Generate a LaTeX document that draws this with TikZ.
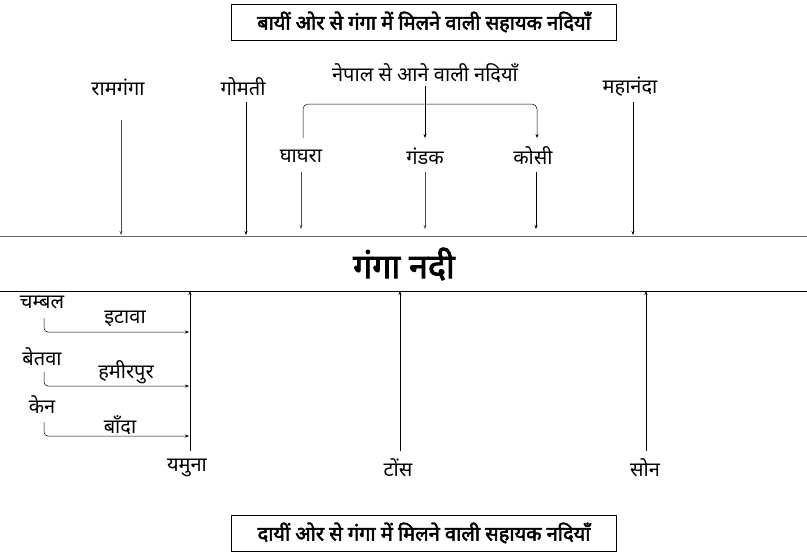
\documentclass[tikz,border=0pt]{standalone}
\usepackage{fontspec}
\setmainfont[Script=Devanagari,AutoFakeBold=2.5]{Noto Sans}
\usetikzlibrary{arrows.meta}
\begin{document}
\begin{tikzpicture}[x=1pt,y=-1pt,
  lbl/.style={inner sep=1pt,font=\fontsize{20}{22}\selectfont},
  ttl/.style={draw,inner sep=0pt,minimum width=385pt,minimum height=36pt,font=\bfseries\fontsize{20}{22}\selectfont},
  arr/.style={-{Stealth[length=4pt,width=3pt]},line width=0.5pt},
  sep/.style={draw=black!60,line width=0.8pt}]
\useasboundingbox (0,0) rectangle (807,560);
\node[ttl] (tt) at (424,22) {बायीं ओर से गंगा में मिलने वाली सहायक नदियाँ};
\node[ttl] (tb) at (424,533) {दायीं ओर से गंगा में मिलने वाली सहायक नदियाँ};
\coordinate (l1a) at (0,236); \coordinate (l1b) at (807,236);
\coordinate (l2a) at (0,291); \coordinate (l2b) at (807,291);
\draw[sep] (l1a) -- (l1b);
\draw[line width=0.8pt] (l2a) -- (l2b);
\node[font=\bfseries\fontsize{34}{38}\selectfont] (ganga) at (404,264) {गंगा नदी};
% top
\node[lbl] (ram) at (118,87) {रामगंगा};
\node[lbl] (gom) at (243,87) {गोमती};
\node[lbl] (nep) at (425,73) {नेपाल से आने वाली नदियाँ};
\node[lbl] (mah) at (630,87) {महानंदा};
\node[lbl] (ghag) at (301,156) {घाघरा};
\node[lbl] (gand) at (425,156) {गंडक};
\node[lbl] (kosi) at (533,156) {कोसी};
\coordinate (ramE) at (121,235); \coordinate (gomE) at (246,235);
\coordinate (ghE) at (301,229); \coordinate (gaE) at (425,229);
\coordinate (koE) at (536,229); \coordinate (maE) at (633,235);
\draw[arr,black!70] (121,120) -- (ramE);
\draw[arr] (246,102) -- (gomE);
\draw[arr,black!70] (301,172) -- (ghE);
\draw[arr,black!70] (425,172) -- (gaE);
\draw[arr] (536,172) -- (koE);
\draw[arr] (633,102) -- (maE);
\draw[arr] (425,86) -- (425,138);
\draw[arr,rounded corners=5pt] (303,138) -- (303,104) -- (537,104) -- (537,138);
% bottom
\node[lbl] (yam) at (187,468) {यमुना};
\node[lbl] (tons) at (398,468) {टोंस};
\node[lbl] (son) at (645,468) {सोन};
\coordinate (yT) at (190,291); \coordinate (tT) at (400,291); \coordinate (sT) at (646,291);
\draw[arr] (190,451) -- (yT);
\draw[arr] (400,451) -- (tT);
\draw[arr] (646,451) -- (sT);
\node[lbl] (cham) at (42,302) {चम्बल};
\node[lbl] (itawa) at (125,319) {इटावा};
\node[lbl] (betwa) at (42,357) {बेतवा};
\node[lbl] (hamir) at (126,372) {हमीरपुर};
\node[lbl] (ken) at (42,405) {केन};
\node[lbl] (banda) at (120,425) {बाँदा};
\coordinate (c1) at (189,332); \coordinate (c2) at (189,386); \coordinate (c3) at (189,436);
\draw[arr,rounded corners=4pt] (44,318) |- (c1);
\draw[arr,rounded corners=4pt] (44,372) |- (c2);
\draw[arr,rounded corners=4pt] (44,422) |- (c3);
\end{tikzpicture}
\end{document}
